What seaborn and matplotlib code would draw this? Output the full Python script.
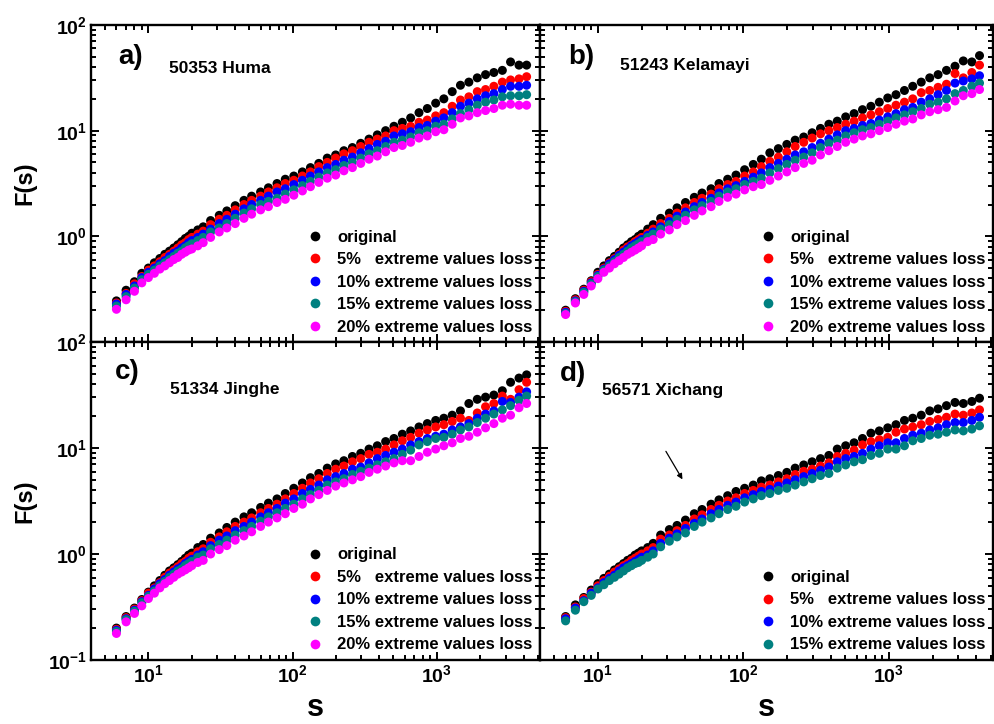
import numpy as np
import pandas as pd
import matplotlib
matplotlib.use("Agg")
import matplotlib.pyplot as plt
import seaborn as sns
from matplotlib.ticker import LogLocator, FuncFormatter, NullFormatter
from matplotlib.lines import Line2D

# ---------------- data ----------------
s_scale = [6, 7, 8, 9, 10, 11, 12, 13, 14, 15, 16, 17, 18, 19, 20, 22, 24, 27, 31, 35,
           40, 46, 52, 60, 68, 78, 89, 102, 117, 133, 152, 174, 199, 227, 260, 297, 339,
           387, 442, 505, 577, 659, 753, 860, 983, 1120, 1280, 1460, 1670, 1910, 2180,
           2490, 2850, 3250, 3720, 4200]

series_names = ["original", "5%   extreme values loss", "10% extreme values loss",
                "15% extreme values loss", "20% extreme values loss"]
series_colors = ["#000000", "#ff0000", "#0000ff", "#008080", "#ff00ff"]

# a) 50353 Huma
a_orig = [0.245, 0.309, 0.372, 0.447, 0.501, 0.562, 0.617, 0.676, 0.724, 0.776,
          0.832, 0.891, 0.955, 1.00, 1.07, 1.15, 1.23, 1.41, 1.58, 1.74,
          1.95, 2.19, 2.40, 2.63, 2.88, 3.16, 3.47, 3.72, 4.07, 4.47,
          4.90, 5.50, 5.89, 6.46, 6.92, 7.59, 8.32, 9.12, 10.0, 11.0,
          12.0, 13.2, 14.8, 16.2, 18.2, 20.0, 23.4, 26.9, 28.8, 31.6,
          33.9, 35.5, 37.2, 44.7, 41.7, 41.7]
a_5 = [0.234, 0.288, 0.355, 0.417, 0.479, 0.525, 0.575, 0.631, 0.676, 0.724,
       0.776, 0.832, 0.871, 0.933, 0.977, 1.05, 1.12, 1.29, 1.45, 1.58,
       1.78, 2.00, 2.19, 2.40, 2.63, 2.88, 3.16, 3.39, 3.72, 4.07,
       4.57, 5.01, 5.50, 6.03, 6.46, 7.08, 7.76, 8.32, 8.91, 10.0,
       10.5, 11.0, 12.0, 12.6, 13.8, 14.8, 17.0, 19.5, 20.9, 23.4,
       24.5, 26.3, 28.8, 30.2, 30.9, 32.4]
a_10 = [0.229, 0.282, 0.339, 0.407, 0.457, 0.501, 0.550, 0.589, 0.646, 0.692,
        0.724, 0.776, 0.813, 0.871, 0.912, 0.977, 1.05, 1.17, 1.32, 1.45,
        1.62, 1.82, 2.00, 2.19, 2.40, 2.63, 2.82, 3.09, 3.39, 3.72,
        4.07, 4.47, 4.79, 5.25, 5.62, 6.17, 6.76, 7.41, 7.94, 8.91,
        9.33, 9.77, 10.7, 11.2, 12.3, 13.2, 14.8, 17.0, 18.2, 20.0,
        21.4, 22.4, 24.5, 26.3, 26.3, 26.9]
a_15 = [0.219, 0.269, 0.324, 0.389, 0.437, 0.479, 0.525, 0.562, 0.603, 0.646,
        0.692, 0.724, 0.776, 0.813, 0.851, 0.912, 0.977, 1.10, 1.20, 1.32,
        1.48, 1.66, 1.82, 2.00, 2.14, 2.29, 2.51, 2.75, 3.02, 3.31,
        3.63, 3.98, 4.27, 4.68, 5.01, 5.50, 6.03, 6.46, 7.08, 7.76,
        8.13, 8.71, 9.55, 10.0, 11.0, 11.5, 12.9, 14.5, 15.8, 17.4,
        18.6, 19.5, 20.9, 21.4, 21.4, 21.9]
a_20 = [0.204, 0.251, 0.302, 0.363, 0.407, 0.447, 0.490, 0.525, 0.562, 0.603,
        0.631, 0.676, 0.708, 0.741, 0.759, 0.813, 0.871, 0.977, 1.10, 1.20,
        1.32, 1.48, 1.62, 1.78, 1.91, 2.09, 2.24, 2.45, 2.69, 2.95,
        3.24, 3.55, 3.80, 4.17, 4.47, 4.90, 5.37, 5.75, 6.31, 6.92,
        7.24, 7.76, 8.51, 8.91, 9.77, 10.2, 11.5, 13.2, 13.8, 14.8,
        15.5, 16.2, 17.4, 17.8, 17.4, 17.4]

# b) 51243 Kelamayi
b_orig = [0.200, 0.257, 0.316, 0.380, 0.457, 0.525, 0.589, 0.646, 0.708, 0.776,
          0.832, 0.891, 0.933, 1.00, 1.05, 1.17, 1.29, 1.48, 1.66, 1.86,
          2.09, 2.34, 2.57, 2.82, 3.16, 3.47, 3.80, 4.27, 4.79, 5.37,
          6.17, 6.76, 7.41, 8.13, 8.71, 9.55, 10.5, 11.5, 12.3, 13.5,
          14.5, 15.8, 17.0, 18.6, 20.4, 21.9, 24.0, 26.3, 28.8, 31.6,
          33.9, 37.2, 40.7, 45.7, 44.7, 51.3]
b_5 = [0.195, 0.251, 0.309, 0.372, 0.437, 0.501, 0.562, 0.617, 0.676, 0.741,
       0.794, 0.832, 0.891, 0.933, 0.977, 1.07, 1.17, 1.32, 1.48, 1.66,
       1.86, 2.09, 2.29, 2.51, 2.82, 3.09, 3.31, 3.72, 4.07, 4.57,
       5.13, 5.62, 6.31, 7.08, 7.76, 8.51, 9.33, 10.0, 10.7, 11.5,
       12.3, 13.2, 14.1, 15.1, 16.2, 17.4, 18.6, 20.0, 22.9, 24.0,
       25.7, 27.5, 34.7, 31.6, 35.5, 41.7]
b_10 = [0.191, 0.245, 0.302, 0.363, 0.427, 0.490, 0.550, 0.603, 0.661, 0.708,
        0.759, 0.813, 0.851, 0.891, 0.933, 1.02, 1.10, 1.23, 1.38, 1.55,
        1.70, 1.91, 2.09, 2.29, 2.57, 2.82, 3.02, 3.31, 3.63, 3.98,
        4.47, 4.90, 5.37, 5.89, 6.31, 6.92, 7.59, 8.32, 9.12, 10.0,
        10.5, 11.2, 11.7, 12.6, 13.5, 14.5, 15.8, 16.6, 18.6, 20.0,
        21.9, 24.0, 28.2, 29.5, 30.9, 33.1]
b_15 = [0.186, 0.240, 0.295, 0.355, 0.417, 0.479, 0.525, 0.575, 0.631, 0.676,
        0.724, 0.776, 0.813, 0.851, 0.891, 0.977, 1.05, 1.17, 1.29, 1.45,
        1.58, 1.78, 1.95, 2.14, 2.40, 2.63, 2.82, 3.09, 3.31, 3.55,
        3.98, 4.37, 4.79, 5.25, 5.62, 6.17, 6.92, 7.59, 8.13, 8.91,
        9.55, 10.2, 10.7, 11.5, 12.3, 13.2, 14.1, 15.1, 16.2, 17.8,
        18.6, 20.0, 22.4, 24.0, 26.3, 28.2]
b_20 = [0.182, 0.234, 0.282, 0.339, 0.398, 0.457, 0.501, 0.550, 0.589, 0.631,
        0.676, 0.708, 0.741, 0.776, 0.813, 0.891, 0.933, 1.05, 1.15, 1.29,
        1.41, 1.58, 1.74, 1.91, 2.14, 2.34, 2.51, 2.75, 2.95, 3.09,
        3.39, 3.72, 4.07, 4.47, 4.90, 5.25, 5.89, 6.46, 7.08, 7.76,
        8.32, 8.91, 9.33, 10.0, 10.7, 11.5, 12.3, 12.9, 14.1, 15.1,
        15.8, 16.6, 19.1, 21.4, 22.4, 24.5]

# c) 51334 Jinghe
c_orig = [0.200, 0.257, 0.309, 0.372, 0.437, 0.501, 0.562, 0.631, 0.692, 0.741,
          0.794, 0.851, 0.912, 0.977, 1.02, 1.15, 1.23, 1.41, 1.58, 1.78,
          2.00, 2.24, 2.45, 2.75, 3.02, 3.31, 3.72, 4.17, 4.68, 5.25,
          5.75, 6.46, 7.08, 7.59, 8.32, 8.91, 9.77, 10.5, 11.5, 12.3,
          13.5, 14.5, 15.8, 17.0, 18.2, 19.1, 20.4, 22.4, 26.3, 28.8,
          30.2, 31.6, 34.7, 41.7, 45.7, 49.0]
c_5 = [0.195, 0.251, 0.302, 0.363, 0.427, 0.479, 0.537, 0.603, 0.661, 0.708,
       0.759, 0.813, 0.851, 0.912, 0.955, 1.05, 1.12, 1.29, 1.45, 1.62,
       1.82, 2.00, 2.19, 2.45, 2.69, 2.95, 3.31, 3.72, 4.17, 4.68,
       5.13, 5.75, 6.31, 6.76, 7.41, 7.94, 8.71, 9.12, 9.77, 10.7,
       11.7, 12.6, 13.8, 14.8, 15.8, 16.6, 17.8, 19.1, 18.2, 21.4,
       24.5, 26.3, 30.9, 28.8, 35.5, 41.7]
c_10 = [0.191, 0.245, 0.295, 0.355, 0.407, 0.468, 0.525, 0.575, 0.631, 0.676,
        0.724, 0.759, 0.813, 0.851, 0.891, 0.977, 1.05, 1.20, 1.35, 1.48,
        1.66, 1.82, 2.00, 2.24, 2.45, 2.69, 3.02, 3.31, 3.72, 4.07,
        4.47, 5.01, 5.37, 5.75, 6.31, 6.61, 7.24, 7.94, 8.51, 9.12,
        9.77, 10.7, 11.5, 12.3, 12.9, 13.5, 14.8, 15.8, 17.0, 19.1,
        20.9, 22.4, 27.5, 26.9, 30.2, 33.9]
c_15 = [0.186, 0.240, 0.288, 0.347, 0.398, 0.447, 0.501, 0.550, 0.603, 0.646,
        0.692, 0.724, 0.776, 0.813, 0.851, 0.933, 0.977, 1.12, 1.23, 1.35,
        1.51, 1.66, 1.82, 2.04, 2.24, 2.45, 2.69, 2.95, 3.31, 3.63,
        3.98, 4.47, 4.79, 5.13, 5.62, 6.03, 6.46, 6.92, 7.41, 7.94,
        8.71, 9.55, 10.7, 11.5, 12.3, 12.6, 13.5, 14.8, 15.8, 17.4,
        19.1, 20.9, 22.9, 25.1, 28.2, 30.9]
c_20 = [0.178, 0.229, 0.275, 0.324, 0.380, 0.427, 0.479, 0.525, 0.562, 0.603,
        0.646, 0.676, 0.708, 0.741, 0.776, 0.832, 0.871, 1.00, 1.10, 1.20,
        1.35, 1.48, 1.62, 1.82, 2.00, 2.19, 2.40, 2.69, 2.95, 3.31,
        3.63, 3.98, 4.37, 4.68, 5.01, 5.37, 5.89, 6.31, 6.76, 7.24,
        7.59, 7.59, 8.32, 9.12, 9.77, 10.5, 11.2, 12.3, 12.9, 14.1,
        15.5, 17.0, 19.1, 20.4, 24.0, 26.3]

# d) 56571 Xichang
d_orig = [0.257, 0.331, 0.389, 0.457, 0.525, 0.589, 0.646, 0.708, 0.759, 0.813,
          0.871, 0.912, 0.977, 1.02, 1.07, 1.15, 1.26, 1.51, 1.70, 1.86,
          2.09, 2.40, 2.63, 2.95, 3.24, 3.55, 3.89, 4.17, 4.47, 4.90,
          5.13, 5.50, 5.89, 6.46, 6.92, 7.41, 7.94, 8.51, 9.77, 10.5,
          11.2, 12.3, 13.8, 14.5, 15.5, 16.6, 18.2, 19.1, 20.4, 22.4,
          23.4, 25.1, 26.9, 26.3, 27.5, 29.5]
d_5 = [0.251, 0.316, 0.380, 0.437, 0.501, 0.562, 0.617, 0.676, 0.724, 0.776,
       0.813, 0.871, 0.912, 0.955, 1.00, 1.07, 1.15, 1.38, 1.51, 1.66,
       1.86, 2.14, 2.34, 2.63, 2.88, 3.16, 3.39, 3.72, 3.98, 4.27,
       4.47, 4.79, 5.13, 5.62, 6.03, 6.31, 6.76, 7.24, 8.32, 8.91,
       9.55, 10.7, 11.5, 12.0, 12.6, 14.1, 15.1, 15.8, 16.6, 17.8,
       18.6, 19.5, 20.9, 20.4, 21.4, 22.9]
d_10 = [0.245, 0.309, 0.363, 0.427, 0.479, 0.537, 0.589, 0.631, 0.692, 0.741,
        0.776, 0.813, 0.851, 0.891, 0.933, 0.977, 1.07, 1.26, 1.41, 1.55,
        1.74, 1.95, 2.14, 2.40, 2.63, 2.88, 3.09, 3.39, 3.63, 3.89,
        4.07, 4.37, 4.68, 5.01, 5.37, 5.75, 6.17, 6.61, 7.41, 7.94,
        8.32, 8.91, 9.77, 10.5, 11.2, 11.2, 12.3, 13.2, 13.8, 14.8,
        15.5, 16.6, 17.4, 17.4, 18.2, 19.5]
d_15 = [0.234, 0.295, 0.355, 0.407, 0.468, 0.513, 0.562, 0.603, 0.646, 0.692,
        0.741, 0.776, 0.813, 0.832, 0.871, 0.933, 1.00, 1.17, 1.32, 1.45,
        1.58, 1.82, 2.00, 2.19, 2.40, 2.63, 2.82, 3.09, 3.31, 3.55,
        3.72, 3.98, 4.17, 4.47, 4.79, 5.13, 5.50, 5.75, 6.46, 6.92,
        7.41, 7.76, 8.51, 8.91, 9.77, 9.77, 10.5, 11.7, 12.3, 13.2,
        13.5, 14.1, 14.8, 14.5, 15.1, 16.2]

panel_letters = ["a)", "b)", "c)", "d)"]
station_names = ["50353 Huma", "51243 Kelamayi", "51334 Jinghe", "56571 Xichang"]
panel_series = [
    [a_orig, a_5, a_10, a_15, a_20],
    [b_orig, b_5, b_10, b_15, b_20],
    [c_orig, c_5, c_10, c_15, c_20],
    [d_orig, d_5, d_10, d_15],
]

# ---------------- style ----------------
sns.set_theme(style="ticks")
plt.rcParams["font.family"] = ["Liberation Sans", "DejaVu Sans"]
plt.rcParams["font.weight"] = "bold"
plt.rcParams["text.color"] = "black"
plt.rcParams["axes.labelcolor"] = "black"
plt.rcParams["xtick.color"] = "black"
plt.rcParams["ytick.color"] = "black"
plt.rcParams["xtick.labelcolor"] = "black"
plt.rcParams["ytick.labelcolor"] = "black"
plt.rcParams["mathtext.fontset"] = "custom"
plt.rcParams["mathtext.rm"] = "Liberation Sans:bold"
plt.rcParams["mathtext.bf"] = "Liberation Sans:bold"
plt.rcParams["mathtext.it"] = "Liberation Sans:bold"

fig = plt.figure(figsize=(9.95, 7.24), dpi=100)
fig.patch.set_facecolor("white")

L, M, R = 0.0915, 0.5427, 0.998
T, C, B = 0.9655, 0.5276, 0.0884
rects = [
    [L, C, M - L, T - C],
    [M, C, R - M, T - C],
    [L, B, M - L, C - B],
    [M, B, R - M, C - B],
]

def pow_fmt(v, pos):
    e = int(round(np.log10(v)))
    return r"$\mathbf{10^{%d}}$" % e

def pow_fmt_no_bottom(v, pos):
    e = int(round(np.log10(v)))
    if e == -1:
        return ""
    return r"$\mathbf{10^{%d}}$" % e

text_pos = [
    ((0.060, 0.900), (0.174, 0.862)),
    ((0.062, 0.900), (0.177, 0.872)),
    ((0.053, 0.905), (0.175, 0.852)),
    ((0.044, 0.900), (0.137, 0.849)),
]

for i, (rect, sers) in enumerate(zip(rects, panel_series)):
    ax = fig.add_axes(rect)
    names = series_names[:len(sers)]
    cols = series_colors[:len(sers)]
    df = pd.concat(
        [pd.DataFrame({"s": s_scale, "F": v, "series": n}) for v, n in zip(sers, names)],
        ignore_index=True,
    )
    sns.scatterplot(data=df, x="s", y="F", hue="series", hue_order=names,
                    palette=cols, s=42, linewidth=0, edgecolor="none",
                    legend=False, ax=ax, zorder=3)
    ax.set_xscale("log")
    ax.set_yscale("log")
    ax.set_xlim(4, 5200)
    ax.set_ylim(0.1, 100)
    ax.xaxis.set_major_locator(LogLocator(base=10, numticks=10))
    ax.yaxis.set_major_locator(LogLocator(base=10, numticks=10))
    ax.xaxis.set_minor_locator(LogLocator(base=10, subs=np.arange(2, 10), numticks=20))
    ax.yaxis.set_minor_locator(LogLocator(base=10, subs=np.arange(2, 10), numticks=20))
    ax.xaxis.set_minor_formatter(NullFormatter())
    ax.yaxis.set_minor_formatter(NullFormatter())
    ax.tick_params(which="both", direction="in", top=True, right=True,
                   color="black", labelcolor="black", width=1.4, labelsize=14, pad=3)
    ax.tick_params(which="major", length=6)
    ax.tick_params(which="minor", length=3.5)
    for sp in ax.spines.values():
        sp.set_linewidth(1.7)
        sp.set_color("black")

    col = i % 2
    row = i // 2
    if col == 0:
        ax.yaxis.set_major_formatter(FuncFormatter(pow_fmt if row == 1 else pow_fmt_no_bottom))
        ax.set_ylabel("F(s)", fontsize=17, fontweight="bold", color="black")
        ax.yaxis.set_label_coords(-0.122, 0.5)
    else:
        ax.yaxis.set_major_formatter(NullFormatter())
        ax.set_ylabel("")
    if row == 1:
        ax.xaxis.set_major_formatter(FuncFormatter(pow_fmt))
        ax.set_xlabel("s", fontsize=22, fontweight="bold", color="black")
        ax.xaxis.set_label_coords(0.5, -0.105)
    else:
        ax.xaxis.set_major_formatter(NullFormatter())
        ax.set_xlabel("")

    (lx, ly), (nx, ny) = text_pos[i]
    ax.text(lx, ly, panel_letters[i], transform=ax.transAxes, fontsize=20,
            fontweight="bold", va="center", ha="left", color="black")
    ax.text(nx, ny, station_names[i], transform=ax.transAxes, fontsize=12.5,
            fontweight="bold", va="center", ha="left", color="black")

    handles = [Line2D([], [], marker="o", ls="", color=c, markersize=7, markeredgewidth=0)
               for c in cols]
    leg = ax.legend(handles, names, loc="lower right", frameon=False,
                    prop={"weight": "bold", "size": 12}, handlelength=1.0,
                    handletextpad=0.8, labelspacing=0.45, borderaxespad=0.25,
                    borderpad=0.2)
    for t in leg.get_texts():
        t.set_color("black")

    if i == 3:
        ax.annotate("", xy=(39, 4.8), xytext=(28.7, 9.8),
                    arrowprops=dict(arrowstyle="-|>", lw=0.9, color="black",
                                    mutation_scale=8))

fig.savefig("out.png", dpi=100, facecolor="white")
